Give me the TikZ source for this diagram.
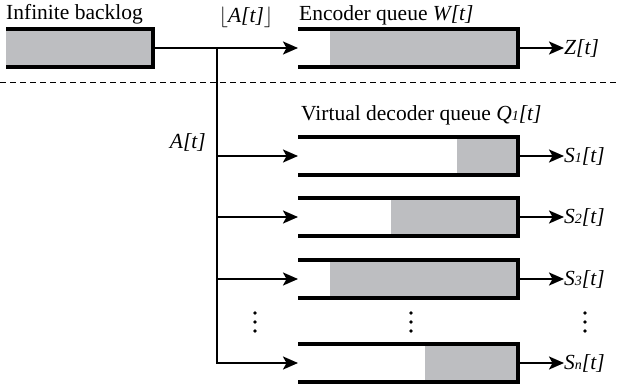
\documentclass[tikz,border=0pt]{standalone}
\usepackage{fontspec}
\setmainfont{Liberation Serif}
\usetikzlibrary{arrows.meta,calc}
\definecolor{qgrey}{RGB}{189,190,193}
\newcommand{\smallsub}[1]{{\fontsize{14}{14}\selectfont #1}}
\newcommand{\drawqueue}[2]{%
  \fill[qgrey] ($(#1.north west)+(#2,0)$) rectangle (#1.south east);
  \draw[qborder] (#1.north west) -- (#1.north east) -- (#1.south east) -- (#1.south west);
}
\begin{document}
\begin{tikzpicture}[x=1pt,y=-1pt,
  lab/.style={font=\fontsize{21.5}{25}\selectfont, inner sep=0pt},
  qbox/.style={minimum height=38pt, inner sep=0pt, outer sep=0pt},
  qborder/.style={line width=3.3pt, line join=miter},
  conn/.style={line width=2.2pt, -{Stealth[length=15pt,width=13pt,inset=3.5pt]}},
  dashsep/.style={line width=1pt, dash pattern=on 6pt off 4pt},
]
\useasboundingbox (0,0) rectangle (618,391);

% separator
\draw[dashsep] (0,82) -- (618,82);

% queues
\node[qbox, minimum width=147pt] (backlog) at (79.5,48) {};
\node[qbox, minimum width=220pt] (enc) at (408,48) {};
\node[qbox, minimum width=220pt] (q1) at (408,156) {};
\node[qbox, minimum width=220pt] (q2) at (408,217) {};
\node[qbox, minimum width=220pt] (q3) at (408,279) {};
\node[qbox, minimum width=220pt] (qn) at (408,363) {};

\drawqueue{backlog}{0}
\drawqueue{enc}{32}
\drawqueue{q1}{159}
\drawqueue{q2}{93}
\drawqueue{q3}{32}
\drawqueue{qn}{127}

% labels
\node[lab, anchor=west] (tbl) at (6,14) {Infinite backlog};
\node[lab] (tfl) at (246,17) {$\lfloor$\textit{A[t]}$\rfloor$};
\node[lab, anchor=west] (tenc) at (299,15) {Encoder queue \textit{W[t]}};
\node[lab, anchor=west] (tq) at (301,115) {Virtual decoder queue \textit{Q\smallsub{1}[t]}};
\node[lab, anchor=east] (ta) at (206,142) {\textit{A[t]}};

\node[lab, anchor=west] (z) at (564,48) {\textit{Z[t]}};
\node[lab, anchor=west] (s1) at (564,156) {\textit{S\smallsub{1}[t]}};
\node[lab, anchor=west] (s2) at (564,217) {\textit{S\smallsub{2}[t]}};
\node[lab, anchor=west] (s3) at (564,279) {\textit{S\smallsub{3}[t]}};
\node[lab, anchor=west] (sn) at (564,363) {\textit{S\smallsub{n}[t]}};

% connectors
\coordinate (split) at (217,48);
\draw[conn] (backlog.east) -- (enc.west);
\draw[conn] (split) |- (qn.west);
\draw[conn] (split |- q1.west) -- (q1.west);
\draw[conn] (split |- q2.west) -- (q2.west);
\draw[conn] (split |- q3.west) -- (q3.west);

\draw[conn] (enc.east) -- (z.west);
\draw[conn] (q1.east) -- (s1.west);
\draw[conn] (q2.east) -- (s2.west);
\draw[conn] (q3.east) -- (s3.west);
\draw[conn] (qn.east) -- (sn.west);

% vertical ellipses
\foreach \x in {255,411,585}
  \foreach \y in {313,322,331}
    \fill (\x,\y) circle (1.9pt);
\end{tikzpicture}
\end{document}
